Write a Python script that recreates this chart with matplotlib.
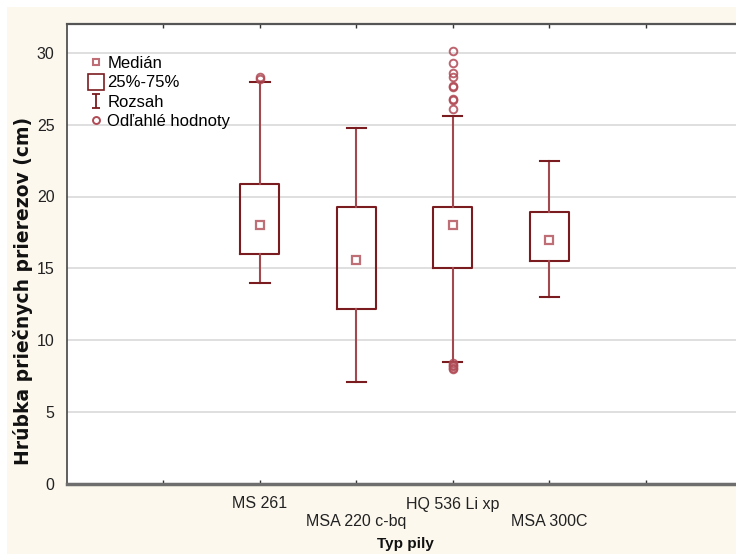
import matplotlib
matplotlib.use("Agg")
import matplotlib.pyplot as plt
from matplotlib.lines import Line2D
from matplotlib.patches import Rectangle
from matplotlib.path import Path

# ---- data ----
categories = ["MS 261", "MSA 220 c-bq", "HQ 536 Li xp", "MSA 300C"]
positions = [2, 3, 4, 5]
medians = [18.0, 15.6, 18.0, 17.0]
q1 = [16.0, 12.2, 15.0, 15.5]
q3 = [20.9, 19.3, 19.3, 18.9]
whis_lo = [14.0, 7.1, 8.5, 13.0]
whis_hi = [28.0, 24.8, 25.6, 22.5]
outliers = [
    [28.3, 28.2],
    [],
    [30.1, 29.3, 28.6, 28.3, 27.7, 27.6, 26.8, 26.7, 26.1, 8.4, 8.3, 8.2, 8.1, 8.0],
    [],
]
yticks = [0, 5, 10, 15, 20, 25, 30]
xticks = [1, 2, 3, 4, 5, 6]

BOX = "#7A1C1F"
WHISK = "#A2484E"
MED = "#BE6E74"
FLIER = "#B04A55"
CREAM = "#FCF8EE"

plt.rcParams["font.family"] = ["Liberation Sans", "DejaVu Sans"]

fig = plt.figure(figsize=(7.36, 5.54), dpi=100)
fig.patch.set_facecolor("white")
fig.patches.append(Rectangle((7 / 736, 0), 1, 547 / 554, transform=fig.transFigure,
                             facecolor=CREAM, edgecolor="none", zorder=-10))

W, H = 736, 554
ax = fig.add_axes([67 / W, 70 / H, 675 / W, 460 / H])
ax.set_facecolor("white")

stats = []
for i in range(len(categories)):
    stats.append(dict(med=medians[i], q1=q1[i], q3=q3[i], whislo=whis_lo[i],
                      whishi=whis_hi[i], fliers=outliers[i], label=categories[i]))

ax.bxp(stats, positions=positions, widths=0.405, showfliers=True,
       boxprops=dict(color=BOX, linewidth=1.5),
       whiskerprops=dict(color=WHISK, linewidth=1.5),
       capprops=dict(color=BOX, linewidth=1.5),
       medianprops=dict(linewidth=0),
       flierprops=dict(marker="o", markersize=5.5, markerfacecolor="none",
                       markeredgecolor=FLIER, markeredgewidth=1.4, alpha=0.85),
       capwidths=0.2, zorder=3)
ax.plot(positions, medians, ls="none", marker="s", ms=6, mfc="white",
        mec=MED, mew=1.6, zorder=4)

ax.set_xlim(0, 7)
ax.set_ylim(0, 32)
ax.set_yticks(yticks)
ax.set_yticklabels([str(v) for v in yticks], fontsize=11.5, color="#222222")
ax.set_xticks(xticks)
xlabels = ["", categories[0], "\n" + categories[1], categories[2], "\n" + categories[3], ""]
ax.set_xticklabels(xlabels, fontsize=11.5, color="#222222", linespacing=1.2)
ax.tick_params(axis="x", direction="in", length=3, width=1, color="#333333",
               top=True, pad=9)
ax.tick_params(axis="y", length=0, pad=9)
ax.yaxis.grid(True, color="#D9D9D9", linewidth=1.2)
ax.set_axisbelow(True)

ax.spines["left"].set_color("#444444")
ax.spines["left"].set_linewidth(1.2)
ax.spines["top"].set_color("#555555")
ax.spines["top"].set_linewidth(1.6)
ax.spines["bottom"].set_color("#6E6E6E")
ax.spines["bottom"].set_linewidth(2.5)
ax.spines["right"].set_visible(False)

fig.text(405 / W, 1 - 537 / H, "Typ pily", fontsize=11, fontweight="bold",
         ha="center", va="top", color="#111111")
fig.text(23 / W, 1 - 291 / H, "Hrúbka priečnych prierezov (cm)", fontsize=13.5,
         fontweight="bold", rotation=90, ha="center", va="center",
         color="#111111", family=["DejaVu Sans"])

# legend
ibeam = Path([(-0.5, 1), (0.5, 1), (0, 1), (0, -1), (-0.5, -1), (0.5, -1)],
             [Path.MOVETO, Path.LINETO, Path.MOVETO, Path.LINETO, Path.MOVETO, Path.LINETO])
handles = [
    Line2D([], [], ls="none", marker="s", ms=5, mfc="white", mec=MED, mew=1.5),
    Line2D([], [], ls="none", marker="s", ms=11, mfc="white", mec=BOX, mew=1.2),
    Line2D([], [], ls="none", marker=ibeam, ms=10.5, mfc="none", mec=BOX, mew=1.3),
    Line2D([], [], ls="none", marker="o", ms=5, mfc="none", mec=FLIER, mew=1.4),
]
labels = ["Medián", "25%-75%", "Rozsah", "Odľahlé hodnoty"]
ax.legend(handles, labels, loc="upper left", bbox_to_anchor=(0.03, 0.93),
          frameon=False, fontsize=12, handlelength=1.0, handletextpad=0.2,
          labelspacing=0.25, borderaxespad=0, borderpad=0)

fig.savefig("out.png", dpi=100, facecolor=fig.get_facecolor())
